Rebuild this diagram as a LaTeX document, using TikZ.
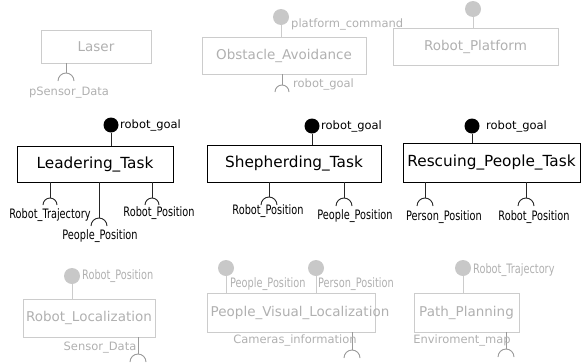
\documentclass[tikz,border=0pt]{standalone}
\usepackage{fontspec}
\setmainfont{DejaVu Sans}
\newfontfamily\condfont[FakeStretch=0.75]{DejaVu Sans}
\definecolor{lgray}{HTML}{CCCCCC}
\definecolor{tgray}{HTML}{B0B0B0}
\definecolor{sgray}{HTML}{999999}
\definecolor{cgray}{HTML}{C8C8C8}
\newcommand{\socketarc}[3]{\draw[#3] (#1) ++(-#2,#2) arc[start angle=180,end angle=360,radius=#2];}
\begin{document}
\begin{tikzpicture}[x=1pt,y=-1pt,
  graybox/.style={draw=lgray, line width=0.9pt, text=tgray, font=\fontsize{13.5}{15}\selectfont, inner sep=0pt},
  taskbox/.style={draw=black, line width=0.9pt, text=black, font=\fontsize{15.3}{17}\selectfont, inner sep=0pt},
  glolli/.style={circle, fill=cgray, inner sep=0pt, minimum size=16pt},
  blolli/.style={circle, fill=black, inner sep=0pt, minimum size=15pt},
  glbl/.style={text=tgray, font=\fontsize{11.5}{13}\selectfont, inner sep=0pt},
  gclbl/.style={text=tgray, font=\condfont\fontsize{13}{14}\selectfont, inner sep=0pt},
  blbl/.style={text=black, font=\fontsize{11.5}{13}\selectfont, inner sep=0pt},
  bclbl/.style={text=black, font=\condfont\fontsize{13}{14}\selectfont, inner sep=0pt},
  gtext/.style={text=tgray, font=\fontsize{13.5}{15}\selectfont, inner sep=0pt},
  gline/.style={draw=lgray, line width=1pt},
  gsock/.style={draw=sgray, line width=0.9pt},
  bsock/.style={draw=black!85, line width=0.9pt}
]
\useasboundingbox (0,0) rectangle (583,362);

% ---------- top row (gray) ----------
\node[graybox, minimum width=110pt, minimum height=33pt] (laser) at (96,46.5) {Laser};
\coordinate (laserS) at (66,73);
\draw[gsock] (laser.south -| laserS) -- (laserS);
\socketarc{laserS}{8}{gsock}
\node[glbl] (lblpsd) at (69,93) {pSensor\_Data};

\node[graybox, minimum width=164pt, minimum height=37pt] (obst) at (284,55.5) {Obstacle\_Avoidance};
\node[glolli] (obstP) at (281,17) {};
\draw[gline] (obstP.south) -- (obst.north -| obstP);
\node[glbl, anchor=west] (lblpc) at (291,24) {platform\_command};
\coordinate (obstS) at (282,85);
\draw[gsock] (obst.south -| obstS) -- (obstS);
\socketarc{obstS}{7}{gsock}
\node[glbl, anchor=west] (lblrg0) at (293,84) {robot\_goal};

\node[graybox, minimum width=165pt, minimum height=37pt] (plat) at (475.5,46.5) {Robot\_Platform};
\node[glolli] (platP) at (473,9) {};
\draw[gline] (platP.south) -- (plat.north -| platP);

% ---------- middle row (tasks) ----------
\node[taskbox, minimum width=156pt, minimum height=36pt] (lead) at (95,164) {Leadering\_Task};
\node[blolli] (leadP) at (111,125) {};
\draw[bsock] (leadP.south) -- (lead.north -| leadP);
\node[blbl, anchor=west] (lblrg1) at (120,125) {robot\_goal};
\coordinate (leadS1) at (50,198);
\coordinate (leadS2) at (99,218);
\coordinate (leadS3) at (152,198);
\draw[bsock] (lead.south -| leadS1) -- (leadS1);
\draw[bsock] (lead.south -| leadS2) -- (leadS2);
\draw[bsock] (lead.south -| leadS3) -- (leadS3);
\socketarc{leadS1}{7}{bsock}
\socketarc{leadS2}{8}{bsock}
\socketarc{leadS3}{7}{bsock}
\node[bclbl] (lblrt1) at (50,215) {Robot\_Trajectory};
\node[bclbl] (lblpp1) at (100,236) {People\_Position};
\node[bclbl] (lblrp1) at (159,213) {Robot\_Position};

\node[taskbox, minimum width=174pt, minimum height=37pt] (shep) at (294,163.5) {Shepherding\_Task};
\node[blolli] (shepP) at (312,126) {};
\draw[bsock] (shepP.south) -- (shep.north -| shepP);
\node[blbl, anchor=west] (lblrg2) at (321,126) {robot\_goal};
\coordinate (shepS1) at (269,197);
\coordinate (shepS2) at (344,198);
\draw[bsock] (shep.south -| shepS1) -- (shepS1);
\draw[bsock] (shep.south -| shepS2) -- (shepS2);
\socketarc{shepS1}{8}{bsock}
\socketarc{shepS2}{8}{bsock}
\node[bclbl] (lblrp2) at (268,211) {Robot\_Position};
\node[bclbl] (lblpp2) at (355,216) {People\_Position};

\node[taskbox, minimum width=177pt, minimum height=39pt] (resc) at (491.5,162.5) {Rescuing\_People\_Task};
\node[blolli] (rescP) at (472,126) {};
\draw[bsock] (rescP.south) -- (resc.north -| rescP);
\node[blbl, anchor=west] (lblrg3) at (486,126) {robot\_goal};
\coordinate (rescS1) at (425,198);
\coordinate (rescS2) at (526,198);
\draw[bsock] (resc.south -| rescS1) -- (rescS1);
\draw[bsock] (resc.south -| rescS2) -- (rescS2);
\socketarc{rescS1}{8}{bsock}
\socketarc{rescS2}{8}{bsock}
\node[bclbl] (lblpsp3) at (444,217) {Person\_Position};
\node[bclbl] (lblrp3) at (534,217) {Robot\_Position};

% ---------- bottom row (gray) ----------
\node[graybox, minimum width=132pt, minimum height=38pt] (rloc) at (89,318) {Robot\_Localization};
\node[glolli] (rlocP) at (72,276) {};
\draw[gline] (rlocP.south) -- (rloc.north -| rlocP);
\node[gclbl, anchor=west] (lblrp4) at (82,276) {Robot\_Position};
\coordinate (rlocS) at (138,354);
\draw[gsock] (rloc.south -| rlocS) -- (rlocS);
\socketarc{rlocS}{8}{gsock}
\node[glbl] (lblsd) at (100,348) {Sensor\_Data};

\node[graybox, minimum width=168pt, minimum height=39pt] (pvl) at (291,312.5) {};
\node[gtext] (pvlT) at (300,313) {People\_Visual\_Localization};
\node[glolli] (pvlP1) at (226,268) {};
\node[glolli] (pvlP2) at (316,268) {};
\draw[gline] (pvlP1.south) -- (pvl.north -| pvlP1);
\draw[gline] (pvlP2.south) -- (pvl.north -| pvlP2);
\node[gclbl, anchor=west] (lblpp5) at (230,284) {People\_Position};
\node[gclbl, anchor=west] (lblpsp5) at (318,284) {Person\_Position};
\coordinate (pvlS) at (352,350);
\draw[gsock] (pvl.south -| pvlS) -- (pvlS);
\socketarc{pvlS}{8}{gsock}
\node[glbl] (lblci) at (295,340) {Cameras\_information};

\node[graybox, minimum width=105pt, minimum height=39pt] (path) at (466.5,312.5) {Path\_Planning};
\node[glolli] (pathP) at (463,268) {};
\draw[gline] (pathP.south) -- (path.north -| pathP);
\node[gclbl, anchor=west] (lblrt6) at (473,270) {Robot\_Trajectory};
\coordinate (pathS) at (506,349);
\draw[gsock] (path.south -| pathS) -- (pathS);
\socketarc{pathS}{8}{gsock}
\node[glbl] (lblem) at (462,340) {Enviroment\_map};
\end{tikzpicture}
\end{document}
